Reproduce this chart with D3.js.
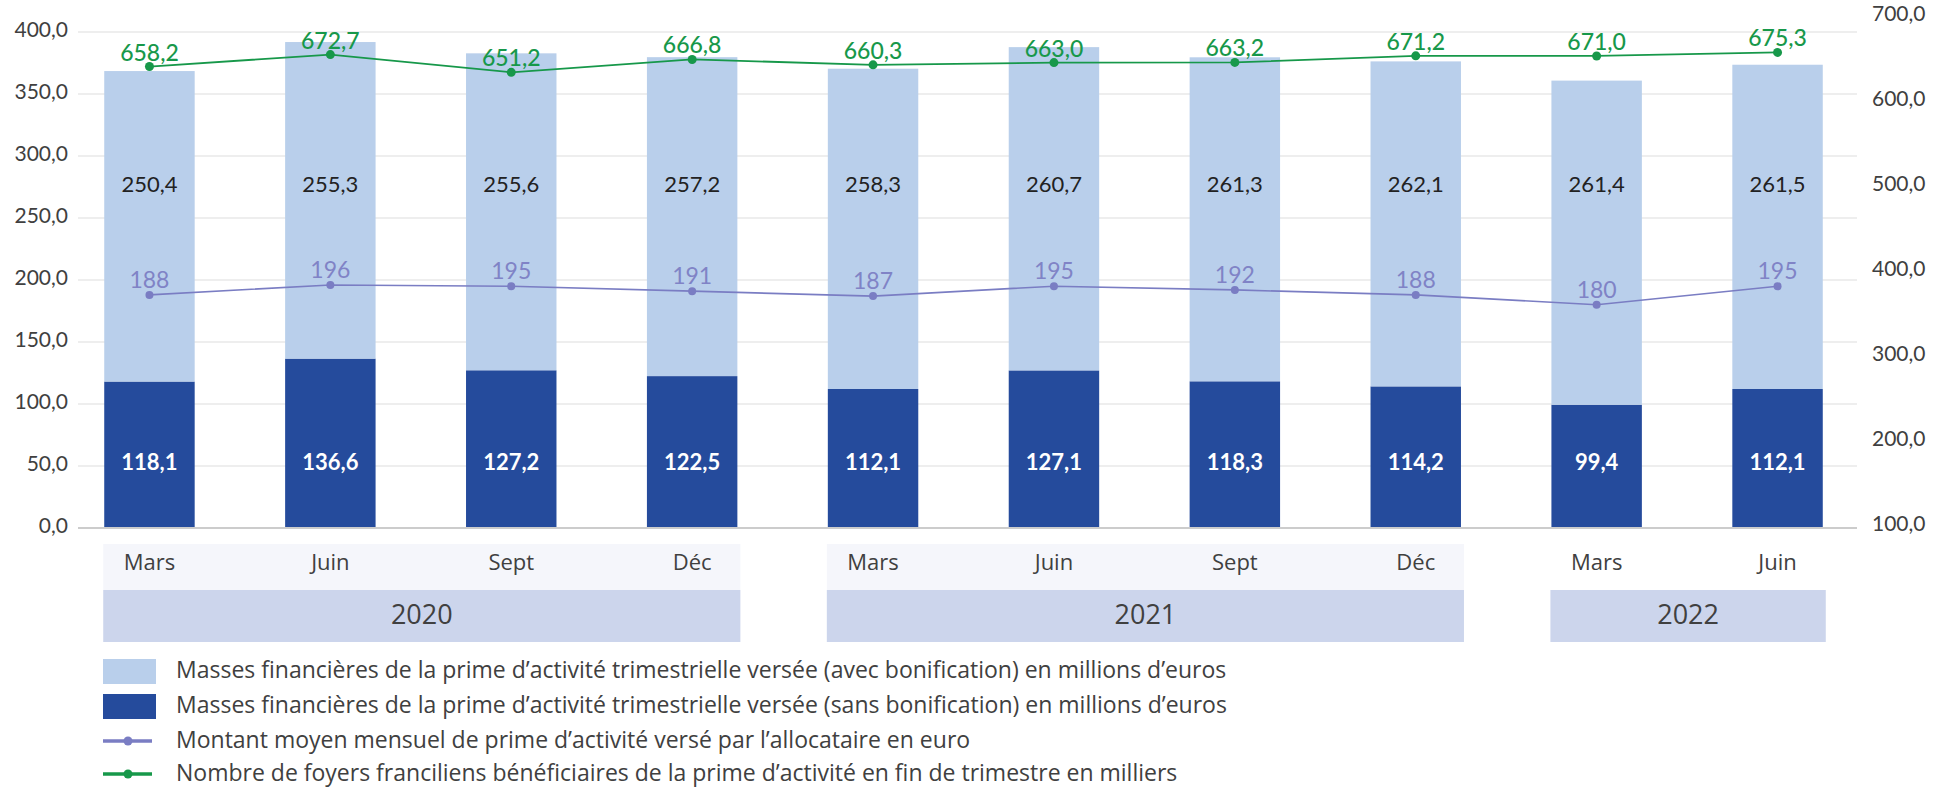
<!DOCTYPE html>
<html>
<head>
<meta charset="utf-8">
<script src="https://cdn.jsdelivr.net/npm/d3@7"></script>
<style>
  body { margin: 0; background: #fff; }
  svg text { font-family: Lato, "Open Sans", sans-serif; }
  svg text.wide { font-family: "Open Sans", Lato, sans-serif; }
</style>
</head>
<body>
<script>
// donnees
var months = ["Mars", "Juin", "Sept", "Déc", "Mars", "Juin", "Sept", "Déc", "Mars", "Juin"];
var years = ["2020", "2020", "2020", "2020", "2021", "2021", "2021", "2021", "2022", "2022"];
var sansBonif = [118.1, 136.6, 127.2, 122.5, 112.1, 127.1, 118.3, 114.2, 99.4, 112.1];
var avecBonif = [250.4, 255.3, 255.6, 257.2, 258.3, 260.7, 261.3, 262.1, 261.4, 261.5];
var montantMoyen = [188, 196, 195, 191, 187, 195, 192, 188, 180, 195];
var foyers = [658.2, 672.7, 651.2, 666.8, 660.3, 663.0, 663.2, 671.2, 671.0, 675.3];
var leftTicks = [0, 50, 100, 150, 200, 250, 300, 350, 400];
var rightTicks = [100, 200, 300, 400, 500, 600, 700];
var legendLabels = [
  "Masses financières de la prime d’activité trimestrielle versée (avec bonification) en millions d’euros",
  "Masses financières de la prime d’activité trimestrielle versée (sans bonification) en millions d’euros",
  "Montant moyen mensuel de prime d’activité versé par l’allocataire en euro",
  "Nombre de foyers franciliens bénéficiaires de la prime d’activité en fin de trimestre en milliers"
];

var width = 1934, height = 788;
var colLight = "#b9cfeb", colDark = "#254b9c", colPurple = "#7a7dc3", colGreen = "#17984a";
var textCol = "#404040";

var fr = d3.formatLocale({decimal: ",", thousands: " ", grouping: [3], currency: ["", " €"]});
var f1 = fr.format(".1f");

var svg = d3.select("body").append("svg")
    .attr("width", width)
    .attr("height", height);

var plotLeft = 78, plotRight = 1857, plotTop = 32, plotBottom = 528;
var idx = d3.range(months.length);

var x = d3.scaleBand().domain(idx).range([plotLeft, 1849]).paddingInner(0.5).paddingOuter(0.145);
var yL = d3.scaleLinear().domain([0, 400]).range([plotBottom, plotTop]);
var yR = d3.scaleLinear().domain([100, 700]).range([plotBottom, plotTop]);
// the right-hand labels are not spaced like the gridlines in the original
var yRTicks = d3.scaleLinear().domain([100, 700]).range([524, 14]);

// grid
svg.append("g").selectAll("line")
  .data(leftTicks.slice(1))
  .enter().append("line")
    .attr("x1", plotLeft).attr("x2", plotRight)
    .attr("y1", function(d) { return yL(d); })
    .attr("y2", function(d) { return yL(d); })
    .attr("stroke", "#e9e9e9")
    .attr("stroke-width", 1.5);

// left axis
var axL = svg.append("g")
    .attr("transform", "translate(" + (plotLeft - 10) + ",0)")
    .call(d3.axisLeft(yL).tickValues(leftTicks).tickFormat(f1).tickSize(0).tickPadding(0));
axL.select(".domain").remove();
axL.selectAll("text")
    .attr("fill", textCol)
    .attr("dy", "0.2em")
    .style("font-size", "21px");

// right axis
var axR = svg.append("g")
    .attr("transform", "translate(1872,0)")
    .call(d3.axisRight(yRTicks).tickValues(rightTicks).tickFormat(f1).tickSize(0).tickPadding(0));
axR.select(".domain").remove();
axR.selectAll("text")
    .attr("fill", textCol)
    .style("font-size", "21px");

// bars
var bars = svg.append("g");
bars.selectAll(".dark")
  .data(idx)
  .enter().append("rect")
    .attr("class", "dark")
    .attr("x", function(i) { return x(i); })
    .attr("width", x.bandwidth())
    .attr("y", function(i) { return yL(sansBonif[i]); })
    .attr("height", function(i) { return yL(0) - yL(sansBonif[i]); })
    .attr("fill", colDark);

bars.selectAll(".light")
  .data(idx)
  .enter().append("rect")
    .attr("class", "light")
    .attr("x", function(i) { return x(i); })
    .attr("width", x.bandwidth())
    .attr("y", function(i) { return yL(sansBonif[i] + avecBonif[i]); })
    .attr("height", function(i) { return yL(sansBonif[i]) - yL(sansBonif[i] + avecBonif[i]); })
    .attr("fill", colLight);

// baseline
svg.append("line")
    .attr("x1", plotLeft).attr("x2", plotRight)
    .attr("y1", yL(0)).attr("y2", yL(0))
    .attr("stroke", "#cccccc")
    .attr("stroke-width", 2);

// bar labels (fixed rows, as in the original)
var cx = function(i) { return x(i) + x.bandwidth() / 2; };
svg.append("g").selectAll("text")
  .data(idx)
  .enter().append("text")
    .attr("x", cx)
    .attr("y", yL(277))
    .attr("dy", "0.35em")
    .attr("text-anchor", "middle")
    .attr("fill", "#222")
    .style("font-size", "22px")
    .text(function(i) { return f1(avecBonif[i]); });

svg.append("g").selectAll("text")
  .data(idx)
  .enter().append("text")
    .attr("x", cx)
    .attr("y", yL(53))
    .attr("dy", "0.35em")
    .attr("text-anchor", "middle")
    .attr("fill", "#fff")
    .style("font-size", "22px")
    .style("font-weight", "bold")
    .text(function(i) { return f1(sansBonif[i]); });

// montant moyen (left axis)
var linePurple = d3.line().x(cx).y(function(i) { return yL(montantMoyen[i]); });
svg.append("path")
    .datum(idx)
    .attr("d", linePurple)
    .attr("fill", "none")
    .attr("stroke", colPurple)
    .attr("stroke-width", 1.6);
svg.append("g").selectAll("circle")
  .data(idx)
  .enter().append("circle")
    .attr("cx", cx)
    .attr("cy", function(i) { return yL(montantMoyen[i]); })
    .attr("r", 4)
    .attr("fill", colPurple);
svg.append("g").selectAll("text")
  .data(idx)
  .enter().append("text")
    .attr("x", cx)
    .attr("y", function(i) { return yL(montantMoyen[i]) - 15; })
    .attr("dy", "0.35em")
    .attr("text-anchor", "middle")
    .attr("fill", "#8083c6")
    .style("font-size", "23px")
    .text(function(i) { return montantMoyen[i]; });

// foyers (right axis)
var lineGreen = d3.line().x(cx).y(function(i) { return yR(foyers[i]); });
svg.append("path")
    .datum(idx)
    .attr("d", lineGreen)
    .attr("fill", "none")
    .attr("stroke", colGreen)
    .attr("stroke-width", 1.8);
svg.append("g").selectAll("circle")
  .data(idx)
  .enter().append("circle")
    .attr("cx", cx)
    .attr("cy", function(i) { return yR(foyers[i]); })
    .attr("r", 4.5)
    .attr("fill", colGreen);
svg.append("g").selectAll("text")
  .data(idx)
  .enter().append("text")
    .attr("x", cx)
    .attr("y", function(i) { return yR(foyers[i]) - 14; })
    .attr("dy", "0.35em")
    .attr("text-anchor", "middle")
    .attr("fill", colGreen)
    .style("font-size", "23px")
    .style("font-weight", 500)
    .text(function(i) { return f1(foyers[i]); });

// category rows: months and years
var yearGroups = d3.groups(idx, function(i) { return years[i]; });
var cat = svg.append("g");
yearGroups.forEach(function(g, k) {
  var first = g[1][0], last = g[1][g[1].length - 1];
  var x0 = x(first) - 1, x1 = x(last) + x.bandwidth() + 3;
  if (k < yearGroups.length - 1) {
    cat.append("rect")
        .attr("x", x0).attr("width", x1 - x0)
        .attr("y", 544).attr("height", 46)
        .attr("fill", "#f5f6fb");
  }
  cat.append("rect")
      .attr("x", x0).attr("width", x1 - x0)
      .attr("y", 590).attr("height", 52)
      .attr("fill", "#ccd5ec");
  cat.append("text")
      .attr("class", "wide")
      .attr("x", (x0 + x1) / 2)
      .attr("y", 615)
      .attr("dy", "0.35em")
      .attr("text-anchor", "middle")
      .attr("fill", textCol)
      .style("font-size", "27px")
      .text(g[0]);
});
cat.selectAll(".month")
  .data(idx)
  .enter().append("text")
    .attr("class", "month wide")
    .attr("x", cx)
    .attr("y", 562)
    .attr("dy", "0.35em")
    .attr("text-anchor", "middle")
    .attr("fill", textCol)
    .style("font-size", "22px")
    .text(function(i) { return months[i]; });

// legend
var legend = svg.append("g").attr("transform", "translate(103,0)");
var rowY = [671, 706, 741, 774];
legend.append("rect").attr("x", 0).attr("y", rowY[0] - 12).attr("width", 53).attr("height", 25).attr("fill", colLight);
legend.append("rect").attr("x", 0).attr("y", rowY[1] - 12).attr("width", 53).attr("height", 25).attr("fill", colDark);
[[rowY[2], colPurple], [rowY[3], colGreen]].forEach(function(d) {
  legend.append("line").attr("x1", 0).attr("x2", 49).attr("y1", d[0]).attr("y2", d[0])
      .attr("stroke", d[1]).attr("stroke-width", 3.5);
  legend.append("circle").attr("cx", 25).attr("cy", d[0]).attr("r", 4.5).attr("fill", d[1]);
});
legend.selectAll("text")
  .data(legendLabels)
  .enter().append("text")
    .attr("class", "wide")
    .attr("x", 73)
    .attr("y", function(d, i) { return rowY[i]; })
    .attr("dy", "0.32em")
    .attr("fill", textCol)
    .style("font-size", "23px")
    .text(function(d) { return d; });
</script>
</body>
</html>
